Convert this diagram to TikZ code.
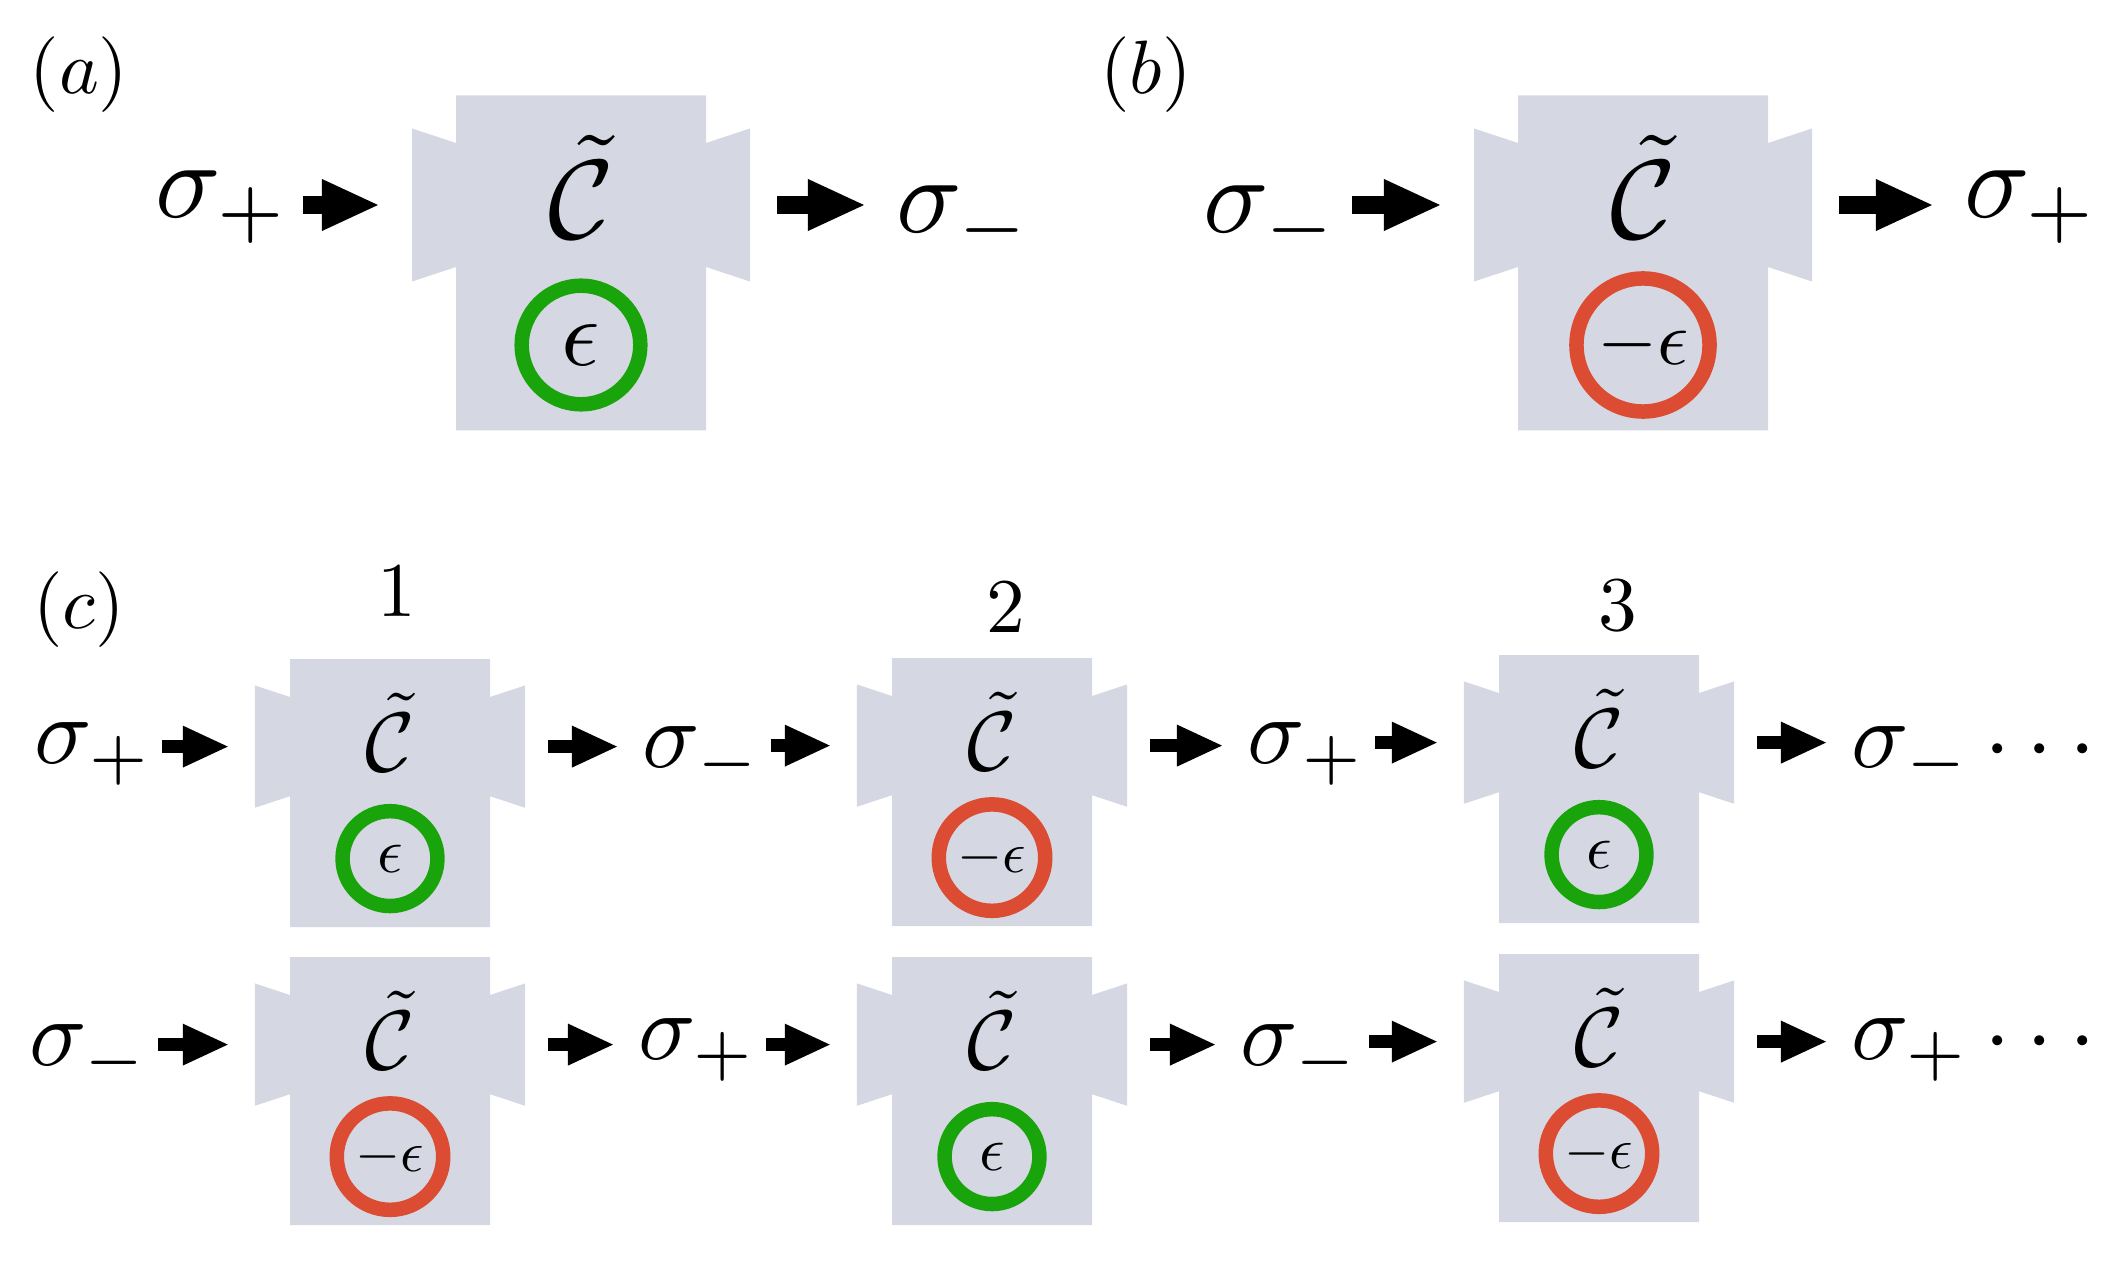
\documentclass[tikz,border=0pt]{standalone}
\usepackage{amsmath,amssymb}
\usepackage{xcolor}
\usetikzlibrary{arrows.meta}

\definecolor{boxgray}{RGB}{213,216,226}
\definecolor{okgreen}{RGB}{26,164,12}
\definecolor{okred}{RGB}{219,76,50}

\tikzset{
  sigA/.style={inner sep=0pt, anchor=base west, scale=3.08},
  sigC/.style={inner sep=0pt, anchor=base west, scale=2.7},
  panel/.style={inner sep=0pt, scale=2.15},
  stage/.style={inner sep=0pt, anchor=base, scale=2.2},
  ring/.style={line width=0.145cm},
  blk/.style={line width=0.17cm, -{Triangle[length=0.56cm,width=0.52cm,line width=0pt]}},
  blkc/.style={line width=0.13cm, -{Triangle[length=0.45cm,width=0.42cm,line width=0pt]}},
  feed/.style={blk, shorten <=0.12cm, shorten >=0.34cm},
  emit/.style={blk, shorten <=0.27cm, shorten >=0.30cm},
  feedc/.style={blkc, shorten <=0.08cm, shorten >=0.27cm},
  emitc/.style={blkc, shorten <=0.23cm, shorten >=0.24cm},
}

\begin{document}
\begin{tikzpicture}[x=0.01cm,y=-0.01cm]
  \useasboundingbox (0,0) rectangle (2123,1282);

  % panel labels and stage numbers
  \node[panel] (la) at (79,75) {$(a)$};
  \node[panel] (lb) at (1146,75) {$(b)$};
  \node[panel] (lc) at (79,610) {$(c)$};
  \node[stage] (n1) at (397,616) {1};
  \node[stage] (n2) at (1006,633) {2};
  \node[stage] (n3) at (1618,630) {3};

  % channel boxes: name/x/y/box scale/C scale/ring colour/ring radius/label/label scale
  \foreach \nm/\cx/\cy/\zs/\zc/\col/\rr/\lab/\ze in {
      a/581/263/1/3.2/okgreen/0.5925/{\epsilon}/2.7,
      b/1643/263/1/3.2/okred/0.665/{-\epsilon}/2.2,
      c1/390/793/0.8/2.4/okgreen/0.5925/{\epsilon}/1.8,
      c2/992/792/0.8/2.4/okred/0.665/{-\epsilon}/1.65,
      c3/1599/789/0.8/2.4/okgreen/0.5925/{\epsilon}/1.8,
      c4/390/1091/0.8/2.4/okred/0.665/{-\epsilon}/1.65,
      c5/992/1091/0.8/2.4/okgreen/0.5925/{\epsilon}/1.8,
      c6/1599/1088/0.8/2.4/okred/0.665/{-\epsilon}/1.65} {
    \begin{scope}[shift={(\cx,\cy)},scale=\zs]
      \fill[boxgray] (-125,-167.5) -- (125,-167.5) -- (125,-120) -- (169,-134.5)
        -- (169,18.5) -- (125,4) -- (125,167.5) -- (-125,167.5) -- (-125,4)
        -- (-169,18.5) -- (-169,-134.5) -- (-125,-120) -- cycle;
      \coordinate (\nm-in) at (-169,-58);
      \coordinate (\nm-out) at (169,-58);
      \node[inner sep=0pt,scale=\zc] (\nm-c) at (0,-76) {$\tilde{\mathcal{C}}$};
      \node[inner sep=0pt,scale=\ze] (\nm-e) at (0,82) {$\lab$};
      \draw[ring,\col] (\nm-e) circle[radius=\rr cm];
    \end{scope}
  }

  % (a) and (b)
  \node[sigA] (sa1) at (153,218) {$\sigma_+$};
  \node[sigA] (sa2) at (894,233) {$\sigma_-$};
  \node[sigA] (sb1) at (1201,233) {$\sigma_-$};
  \node[sigA] (sb2) at (1962,218) {$\sigma_+$};
  \draw[feed] (sa1.east |- a-in) -- (a-in);
  \draw[emit] (a-out) -- (sa2.west |- a-out);
  \draw[feed] (sb1.east |- b-in) -- (b-in);
  \draw[emit] (b-out) -- (sb2.west |- b-out);

  % (c), two chains
  \node[sigC] (s10) at (33,763) {$\sigma_+$};
  \node[sigC] (s11) at (641,767) {$\sigma_-$};
  \node[sigC] (s12) at (1246,763) {$\sigma_+$};
  \node[sigC] (s13) at (1850,767) {$\sigma_-$};
  \node[sigC] (d1) at (1983,772) {${\cdot}\,{\cdot}\,{\cdot}$};
  \node[sigC] (s20) at (28,1065) {$\sigma_-$};
  \node[sigC] (s21) at (637,1059) {$\sigma_+$};
  \node[sigC] (s22) at (1239,1065) {$\sigma_-$};
  \node[sigC] (s23) at (1850,1059) {$\sigma_+$};
  \node[sigC] (d2) at (1983,1064) {${\cdot}\,{\cdot}\,{\cdot}$};

  \foreach \row/\bx/\by/\bz in {1/c1/c2/c3,2/c4/c5/c6} {
    \draw[feedc] (s\row0.east |- \bx-in) -- (\bx-in);
    \draw[emitc] (\bx-out) -- (s\row1.west |- \bx-out);
    \draw[feedc] (s\row1.east |- \by-in) -- (\by-in);
    \draw[emitc] (\by-out) -- (s\row2.west |- \by-out);
    \draw[feedc] (s\row2.east |- \bz-in) -- (\bz-in);
    \draw[emitc] (\bz-out) -- (s\row3.west |- \bz-out);
  }
\end{tikzpicture}
\end{document}
